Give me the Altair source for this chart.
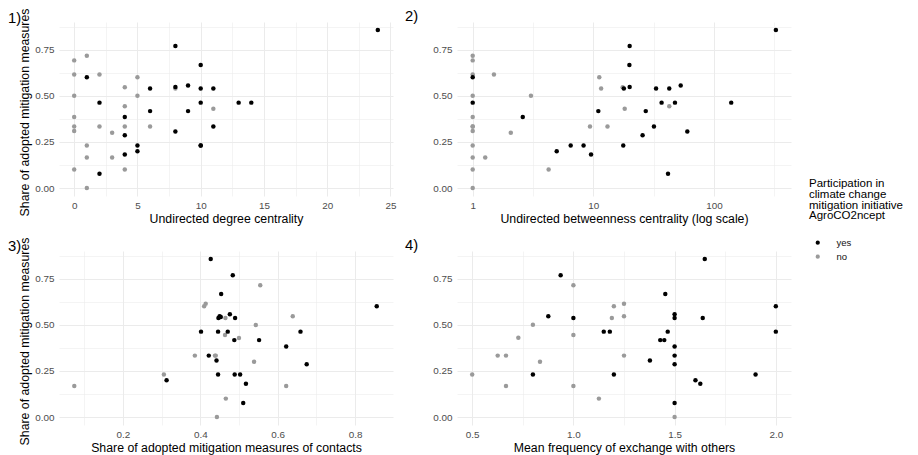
import altair as alt
import pandas as pd

FONT = "Liberation Sans"

# ---- Panel 1: undirected degree centrality ----
p1_x_yes = [1, 2, 2, 4, 4, 4, 5, 5, 6, 6, 8, 8, 8, 9, 9, 10, 10, 10, 10, 10, 11, 11, 13, 14, 24]
p1_y_yes = [0.60, 0.463, 0.078, 0.385, 0.286, 0.182, 0.231, 0.20, 0.54, 0.417, 0.77, 0.548, 0.307,
            0.556, 0.417, 0.667, 0.54, 0.463, 0.231, 0.231, 0.54, 0.334, 0.463, 0.463, 0.857]
p1_x_no = [0, 0, 0, 0, 0, 0, 0, 1, 1, 1, 1, 2, 2, 3, 3, 4, 4, 4, 4, 5, 5, 6, 8, 11]
p1_y_no = [0.692, 0.616, 0.5, 0.385, 0.334, 0.309, 0.101, 0.717, 0.231, 0.166, 0.0, 0.616, 0.334,
           0.30, 0.166, 0.546, 0.443, 0.334, 0.101, 0.60, 0.50, 0.334, 0.54, 0.43]

# ---- Panel 2: undirected betweenness centrality (log scale) ----
p2_x_yes = [1, 1, 2.6, 4.97, 6.49, 8.3, 9.57, 11.0, 17.7, 17.9, 20.0, 19.9, 20.0, 25.6, 27.2, 31.8,
            33.1, 36.8, 41.6, 42.6, 47.5, 53.0, 60.1, 139, 326]
p2_y_yes = [0.60, 0.463, 0.385, 0.20, 0.231, 0.231, 0.182, 0.417, 0.231, 0.54, 0.77, 0.667, 0.548,
            0.286, 0.417, 0.334, 0.54, 0.463, 0.078, 0.54, 0.463, 0.556, 0.307, 0.463, 0.857]
p2_x_no = [1, 1, 1, 1, 1, 1, 1, 1, 1, 1, 1, 1, 1.50, 2.07, 1.27, 3.04, 4.26, 9.38, 11.2, 11.6, 13.1,
           17.5, 18.2, 42.6]
p2_y_no = [0.717, 0.692, 0.616, 0.5, 0.385, 0.334, 0.334, 0.309, 0.231, 0.166, 0.101, 0.0, 0.616,
           0.30, 0.166, 0.5, 0.101, 0.334, 0.60, 0.54, 0.334, 0.546, 0.43, 0.443]

# ---- Panel 3: share of adopted mitigation measures of contacts ----
p3_x_yes = [0.313, 0.402, 0.422, 0.427, 0.442, 0.446, 0.447, 0.453, 0.450, 0.446, 0.454, 0.484, 0.4765,
            0.490, 0.471, 0.659, 0.488, 0.552, 0.622, 0.675, 0.489, 0.503, 0.518, 0.511, 0.856]
p3_y_yes = [0.20, 0.463, 0.333, 0.857, 0.307, 0.231, 0.537, 0.542, 0.546, 0.463, 0.667, 0.768, 0.557,
            0.537, 0.463, 0.463, 0.417, 0.417, 0.383, 0.286, 0.231, 0.231, 0.181, 0.076, 0.60]
p3_x_no = [0.0745, 0.306, 0.386, 0.41, 0.414, 0.438, 0.44, 0.465, 0.464, 0.466, 0.443, 0.555, 0.639,
           0.5435, 0.5, 0.539, 0.622]
p3_y_no = [0.168, 0.231, 0.333, 0.60, 0.614, 0.333, 0.333, 0.537, 0.445, 0.10, 0.0, 0.714, 0.546,
           0.499, 0.428, 0.30, 0.168]

# ---- Panel 4: mean frequency of exchange with others ----
p4_x_yes = [0.8, 0.876, 0.937, 1.0, 1.15, 1.18, 1.2, 1.378, 1.454, 1.429, 1.449, 1.466, 1.5, 1.5, 1.5,
            1.5, 1.5, 1.5, 1.603, 1.627, 1.639, 1.649, 1.9, 2.0, 2.0]
p4_y_yes = [0.231, 0.546, 0.768, 0.537, 0.463, 0.463, 0.231, 0.307, 0.667, 0.417, 0.417, 0.463, 0.557,
            0.537, 0.383, 0.333, 0.286, 0.076, 0.20, 0.181, 0.537, 0.857, 0.231, 0.60, 0.463]
p4_x_no = [0.5, 0.626, 0.667, 0.667, 0.728, 0.8, 0.835, 1.0, 1.0, 1.0, 1.126, 1.19, 1.2, 1.25, 1.25,
           1.25, 1.5]
p4_y_no = [0.231, 0.333, 0.333, 0.168, 0.43, 0.5, 0.30, 0.714, 0.445, 0.168, 0.10, 0.537, 0.6, 0.614,
           0.546, 0.333, 0.0]

groups = ["yes", "no"]
group_colors = ["#000000", "#9a9a9a"]
legend_title = ["Participation in", "\u00a0climate change", "\u00a0mitigation initiative", "AgroCO2ncept"]

y_title = "Share of adopted mitigation measures"
y_ticks = [0, 0.125, 0.25, 0.375, 0.5, 0.625, 0.75, 0.875]

W, H = 334, 174


def table(xy, yy, xn, yn):
    rows = [{"x": a, "y": b, "g": "no"} for a, b in zip(xn, yn)]
    rows += [{"x": a, "y": b, "g": "yes"} for a, b in zip(xy, yy)]
    return pd.DataFrame(rows)


def grid_width(test):
    return {"condition": {"test": test, "value": 1.0}, "value": 0.55}


def panel(df, label, dx, dy, xtitle, xscale, xvalues, xlabel, xmajor, left):
    if left:
        yaxis = alt.Axis(values=y_ticks,
                         labelExpr="datum.value % 0.25 === 0 ? format(datum.value, '.2f') : ''",
                         gridWidth=grid_width("datum.value % 0.25 === 0"),
                         labelOverlap=False, title=y_title, titleY=H / 2 + 3)
    else:
        yaxis = alt.Axis(values=y_ticks,
                         labelExpr="datum.value % 0.25 === 0 ? format(datum.value, '.2f') : ''",
                         gridWidth=grid_width("datum.value % 0.25 === 0"),
                         labelOverlap=False, title="")
    xaxis = alt.Axis(values=xvalues, labelExpr=xlabel, gridWidth=grid_width(xmajor),
                     labelOverlap=False, title=xtitle)
    return alt.Chart(df).mark_circle(size=20, opacity=1).encode(
        x=alt.X("x:Q", scale=xscale, axis=xaxis),
        y=alt.Y("y:Q", scale=alt.Scale(domain=[-0.043, 0.9], nice=False, zero=False), axis=yaxis),
        color=alt.Color("g:N", scale=alt.Scale(domain=groups, range=group_colors),
                        legend=alt.Legend(title=legend_title, orient="none", legendX=750, legendY=156,
                                          symbolType="circle", symbolSize=18, symbolOffset=4,
                                          labelOffset=14, titleFontSize=11.5, titleLineHeight=10.8,
                                          titleFontWeight="normal", titleFont=FONT, labelFont=FONT,
                                          labelFontSize=9.5, labelColor="#111111", titlePadding=16,
                                          rowPadding=3)),
    ).properties(
        width=W, height=H,
        title=alt.TitleParams(text=label, anchor="start", frame="group", dx=dx, dy=dy, fontSize=14.8,
                              fontWeight="normal", font=FONT, color="#000000", offset=2),
    )


p1 = panel(table(p1_x_yes, p1_y_yes, p1_x_no, p1_y_no), "1)", -51, 20, "Undirected degree centrality",
           alt.Scale(domain=[-1.2, 25.2], nice=False, zero=False),
           [0, 2.5, 5, 7.5, 10, 12.5, 15, 17.5, 20, 22.5, 25],
           "datum.value % 5 === 0 ? format(datum.value, 'd') : ''", "datum.value % 5 === 0", True)

p2 = panel(table(p2_x_yes, p2_y_yes, p2_x_no, p2_y_no), "2)", -52, 4.5,
           "Undirected betweenness centrality (log scale)",
           alt.Scale(type="log", domain=[0.741, 435], nice=False),
           [1, 3.1623, 10, 31.623, 100, 316.23],
           "indexof([1, 10, 100], datum.value) >= 0 ? format(datum.value, 'd') : ''",
           "indexof([1, 10, 100], datum.value) >= 0", False)

p3 = panel(table(p3_x_yes, p3_y_yes, p3_x_no, p3_y_no), "3)", -51, 18.5,
           "Share of adopted mitigation measures of contacts",
           alt.Scale(domain=[0.035, 0.898], nice=False, zero=False),
           [0.1, 0.2, 0.3, 0.4, 0.5, 0.6, 0.7, 0.8],
           "round(datum.value * 10) % 2 === 0 ? format(datum.value, '.1f') : ''",
           "round(datum.value * 10) % 2 === 0", True)

p4 = panel(table(p4_x_yes, p4_y_yes, p4_x_no, p4_y_no), "4)", -52, 4.5,
           "Mean frequency of exchange with others",
           alt.Scale(domain=[0.425, 2.075], nice=False, zero=False),
           [0.5, 0.75, 1.0, 1.25, 1.5, 1.75, 2.0],
           "round(datum.value * 4) % 2 === 0 ? format(datum.value, '.1f') : ''",
           "round(datum.value * 4) % 2 === 0", False)

chart = alt.concat(
    p1, p2, p3, p4, columns=2,
    spacing={"row": 55, "column": 64}, bounds="flush",
).properties(
    padding={"left": 0, "top": 0, "right": 0, "bottom": 0},
    background="#ffffff",
).configure_view(strokeWidth=0).configure_axis(
    domain=False, ticks=False, labelFont=FONT, titleFont=FONT, labelColor="#4D4D4D",
    labelFontSize=9.9, titleFontSize=12.3, titleFontWeight="normal", titleColor="#000000",
    gridColor="#EBEBEB",
).configure_axisX(labelPadding=4, titlePadding=3).configure_axisY(labelPadding=5, titlePadding=3)

chart.save("out.html", embed_options={"renderer": "svg", "actions": False})
